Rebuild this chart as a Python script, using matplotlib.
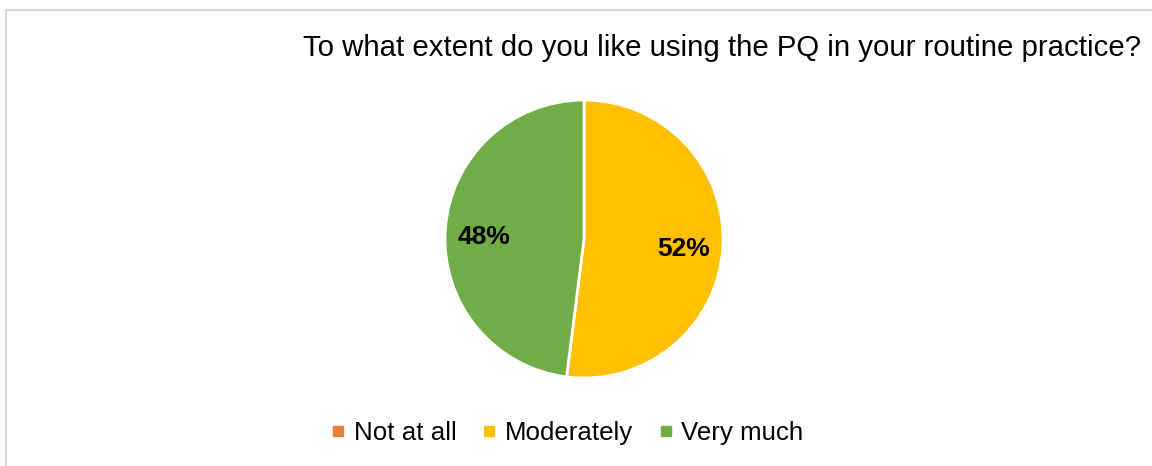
import matplotlib.pyplot as plt
from matplotlib.lines import Line2D
from matplotlib.patches import Rectangle

plt.rcParams['font.family'] = ['Liberation Sans', 'DejaVu Sans']

labels = ["Not at all", "Moderately", "Very much"]
values = [0, 52, 48]
colors = ["#ED7D31", "#FFC000", "#70AD47"]
title = "To what extent do you like using the PQ in your routine practice?"

W, H = 1152, 466
fig = plt.figure(figsize=(W / 100, H / 100), dpi=100)

# chart frame (cut off at right and bottom)
fig.patches.append(Rectangle((6 / W, -0.1), 1.2, 1 - 10 / H + 0.1,
                             transform=fig.transFigure, fill=False,
                             edgecolor="#D9D9D9", linewidth=1.5))

ax = fig.add_axes([445 / W, (H - 378) / H, 278 / W, 278 / H])


def fmt(p):
    return f"{p:.0f}%" if p > 0.5 else ""


wedges, texts, autotexts = ax.pie(values, colors=colors, startangle=90,
                                  counterclock=False, autopct=fmt,
                                  pctdistance=0.72,
                                  wedgeprops=dict(edgecolor="white", linewidth=2),
                                  textprops=dict(fontsize=19, fontweight="bold",
                                                 color="black"))
for t in autotexts:
    x, y = t.get_position()
    t.set_position((x, y - 0.03))
ax.set_xlim(-1, 1)
ax.set_ylim(-1, 1)
ax.set_aspect("equal")

fig.text(303 / W, 1 - 48 / H, title, fontsize=21.2, ha="left", va="center")

handles = [Line2D([], [], marker="s", linestyle="", markersize=7,
                  markerfacecolor=c, markeredgecolor=c) for c in colors]
fig.legend(handles, labels, loc="center", bbox_to_anchor=(567 / W, 1 - 433 / H),
           ncol=3, frameon=False, fontsize=18.6, handlelength=0.6,
           handletextpad=0.3, columnspacing=0.97)

fig.savefig("out.png", dpi=100)
